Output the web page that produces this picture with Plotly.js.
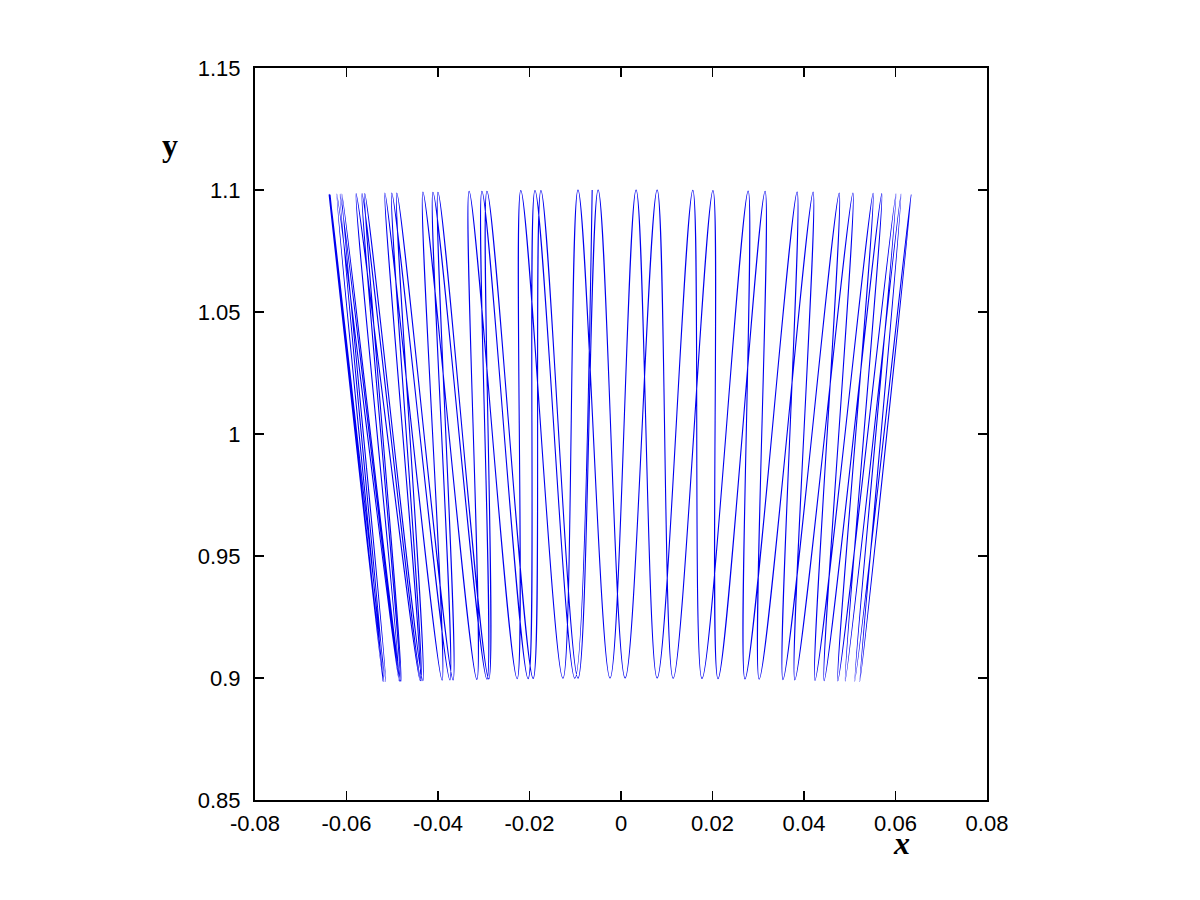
<!DOCTYPE html>
<html>
<head>
<meta charset="utf-8">
<script src="https://cdn.plot.ly/plotly-3.0.1.min.js"></script>
<style>
html,body{margin:0;padding:0;background:#fff;}
#chart{width:1200px;height:900px;}
</style>
</head>
<body>
<div id="chart"></div>
<script>
// Turning points of the trajectory (tops near y=1.1, bottoms near y=0.9).
// Pass 1: left -> right (starts at the upper-left extreme)
const pass1X = [-0.0638,-0.0520,-0.0621,-0.0485,-0.0579,-0.0439,-0.0516,-0.0391,-0.0433,-0.0315,-0.0332,-0.0227,-0.0219,-0.0127,-0.0094,-0.0024,0.0033,0.0079,0.0157,0.0177,0.0278,0.0271,0.0385,0.0354,0.0477,0.0424,0.0551,0.0474,0.0601,0.0511,0.0634];
const pass1Y = [1.0982,0.8985,1.0983,0.8987,1.0985,0.8989,1.0988,0.8991,1.0992,0.8994,1.0995,0.8997,1.0998,0.8999,1.1000,0.9000,1.1000,0.9000,1.0999,0.8998,1.0996,0.8996,1.0992,0.8993,1.0988,0.8990,1.0986,0.8988,1.0984,0.8986,1.0982];
// Pass 2: right -> left
const pass2X = [0.0522,0.0612,0.0490,0.0570,0.0444,0.0507,0.0380,0.0420,0.0302,0.0315,0.0212,0.0201,0.0114,0.0079,0.0009,-0.0050,-0.0094,-0.0175,-0.0192,-0.0293,-0.0289,-0.0400,-0.0367,-0.0490,-0.0433,-0.0560,-0.0481,-0.0610,-0.0514,-0.0636];
const pass2Y = [0.8985,1.0983,0.8987,1.0985,0.8989,1.0988,0.8992,1.0992,0.8995,1.0995,0.8997,1.0998,0.8999,1.1000,0.9000,1.1000,0.8999,1.0998,0.8998,1.0995,0.8996,1.0991,0.8992,1.0988,0.8989,1.0985,0.8987,1.0983,0.8985,1.0982];
// Pass 3: left -> centre (end of record)
const pass3X = [-0.0518,-0.0614,-0.0483,-0.0566,-0.0437,-0.0501,-0.0374,-0.0411,-0.0293,-0.0304,-0.0203,-0.0188,-0.0101,-0.0063];
const pass3Y = [0.8985,1.0983,0.8987,1.0985,0.8989,1.0988,0.8992,1.0991,0.8995,1.0995,0.8997,1.0998,0.8999,1.1000];

const xTickVals = [-0.08,-0.06,-0.04,-0.02,0,0.02,0.04,0.06,0.08];
const xTickText = ['-0.08','-0.06','-0.04','-0.02','0','0.02','0.04','0.06','0.08'];
const yTickVals = [0.85,0.9,0.95,1,1.05,1.1,1.15];
const yTickText = ['0.85','0.9','0.95','1','1.05','1.1','1.15'];

const xs = pass1X.concat(pass2X, pass3X);
const ys = pass1Y.concat(pass2Y, pass3Y);

const trace = {
  x: xs, y: ys, type: 'scatter', mode: 'lines',
  line: {color: '#0000f0', width: 1.1, shape: 'spline', smoothing: 1},
  hoverinfo: 'skip'
};

const tickFont = {family: '"Liberation Sans", Arial, Helvetica, sans-serif', size: 22, color: '#000'};
const axisCommon = {
  showgrid: false, zeroline: false, showline: true, mirror: 'ticks',
  linecolor: '#000', linewidth: 2, ticks: 'inside', ticklen: 9,
  tickwidth: 1.5, tickcolor: '#000', tickfont: tickFont, autorange: false
};

const layout = {
  width: 1200, height: 900,
  margin: {l: 255, r: 213, t: 68, b: 100, pad: 0},
  paper_bgcolor: '#fff', plot_bgcolor: '#fff',
  showlegend: false,
  xaxis: Object.assign({}, axisCommon, {range: [-0.08, 0.08], tickmode: 'array', tickvals: xTickVals, ticktext: xTickText, ticklabelstandoff: 3}),
  yaxis: Object.assign({}, axisCommon, {range: [0.85, 1.15], tickmode: 'array', tickvals: yTickVals, ticktext: yTickText, ticklabelstandoff: 8}),
  annotations: [
    {text: '<b>y</b>', xref: 'paper', yref: 'paper', x: -0.116, y: 0.895, xanchor: 'center', yanchor: 'middle', showarrow: false,
     font: {family: '"Liberation Serif", "Times New Roman", serif', size: 32, color: '#000'}},
    {text: '<b><i>x</i></b>', xref: 'paper', yref: 'paper', x: 0.883, y: -0.059, xanchor: 'center', yanchor: 'middle', showarrow: false,
     font: {family: '"Liberation Serif", "Times New Roman", serif', size: 32, color: '#000'}}
  ]
};

Plotly.newPlot('chart', [trace], layout, {displayModeBar: false, staticPlot: true});
</script>
</body>
</html>
